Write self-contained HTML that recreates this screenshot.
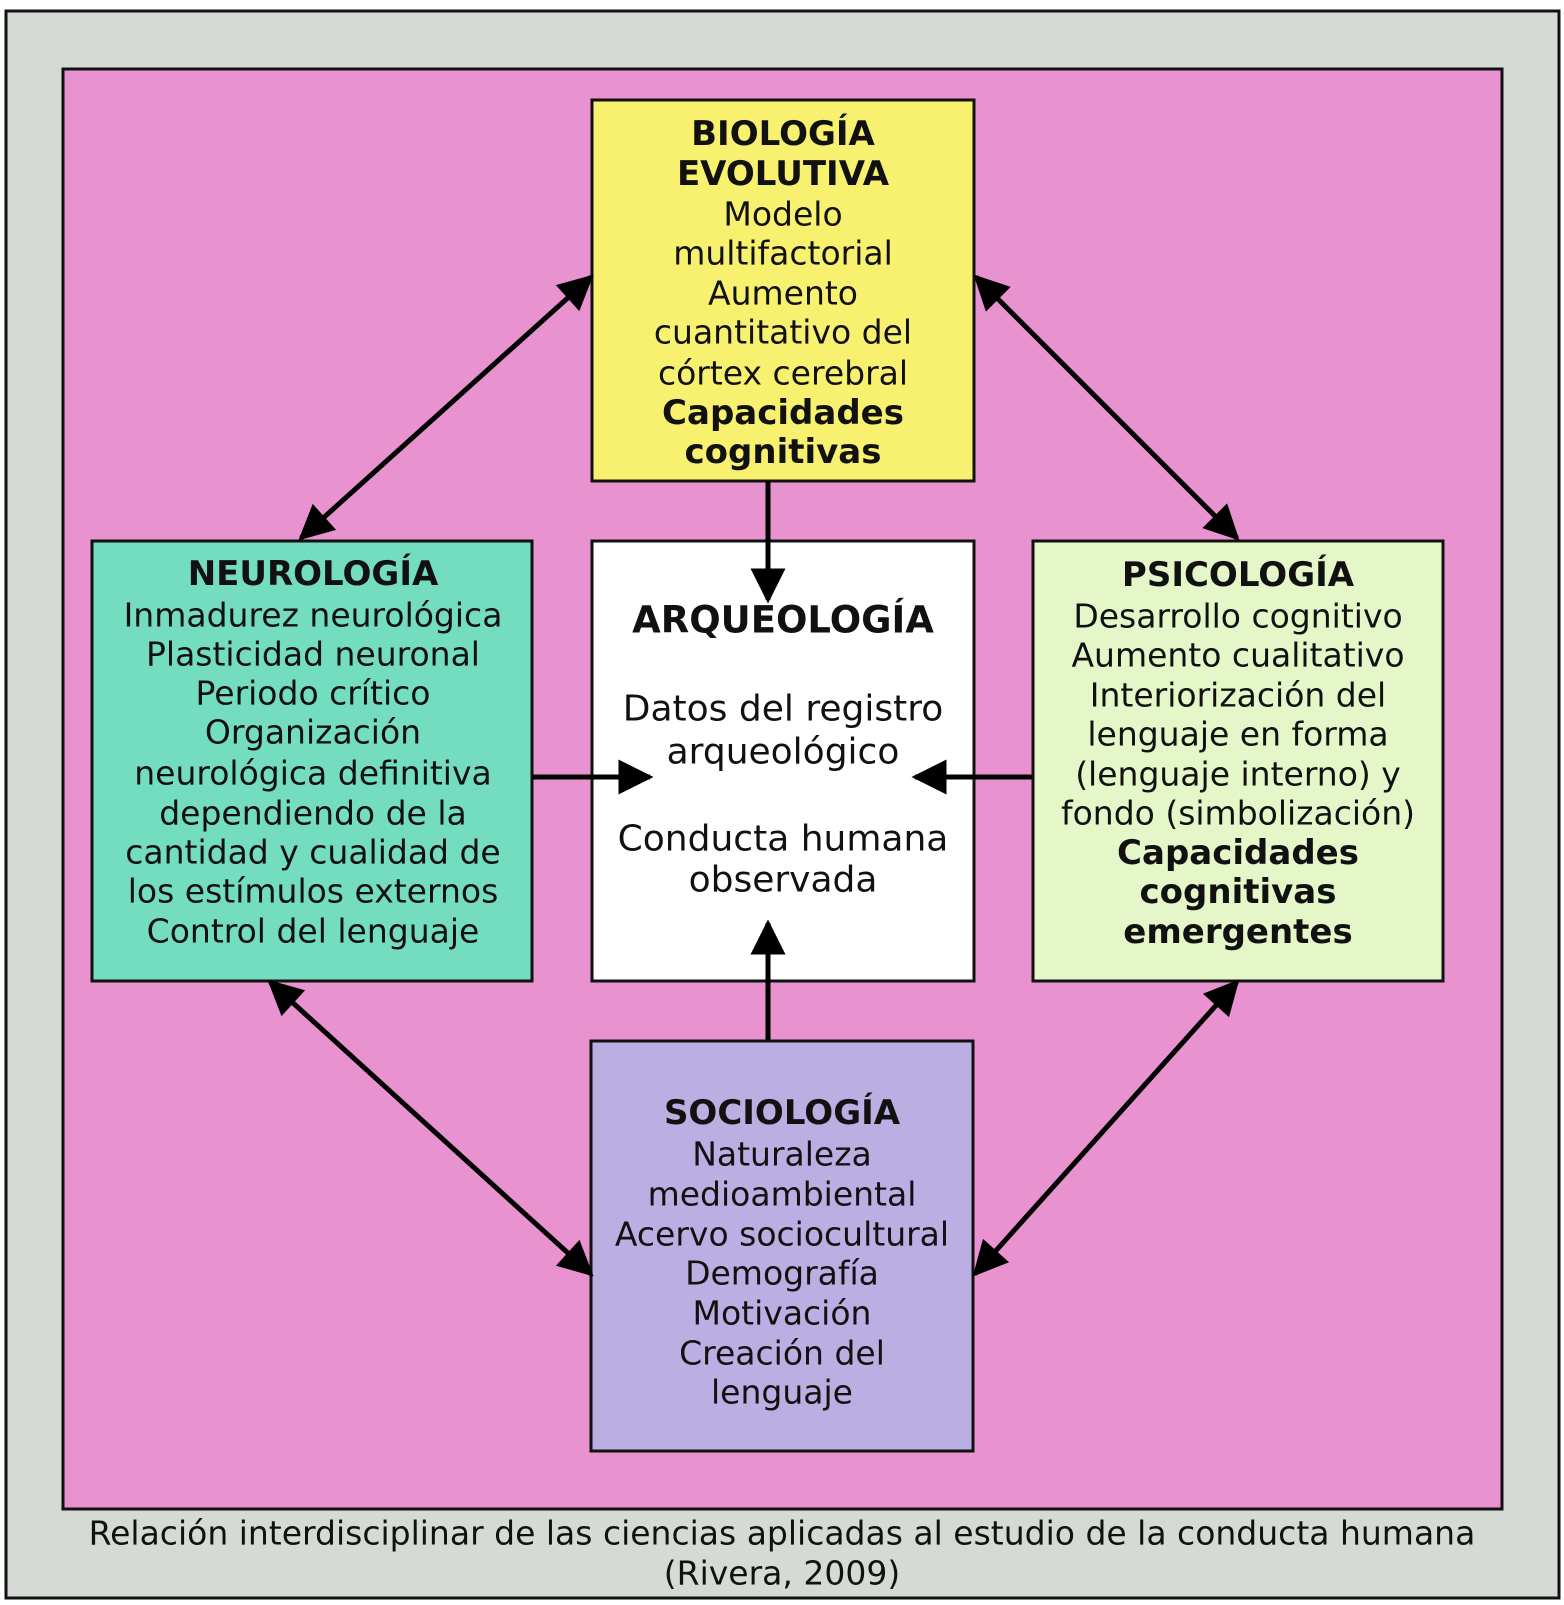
<!DOCTYPE html>
<html><head><meta charset="utf-8"><style>
html,body{margin:0;padding:0;background:#fff;}
svg text{font-family:"DejaVu Sans","Liberation Sans",sans-serif;fill:#111;}
</style></head><body>
<svg width="1564" height="1600" viewBox="0 0 1564 1600" xmlns="http://www.w3.org/2000/svg">
<defs>
<marker id="ah" viewBox="0 0 10 10" refX="9" refY="5" markerWidth="7.5" markerHeight="7" markerUnits="strokeWidth" orient="auto-start-reverse">
<path d="M0,0 L10,5 L0,10 z" fill="#000"/>
</marker>
</defs>
<rect x="0" y="0" width="1564" height="1600" fill="#fff"/>
<rect x="6" y="11" width="1553" height="1587" fill="#d6dad5" stroke="#111" stroke-width="3"/>
<rect x="63" y="69" width="1439" height="1440" fill="#e892cf" stroke="#111" stroke-width="3"/>

<rect x="592" y="100" width="382" height="381" fill="#f8f170" stroke="#111" stroke-width="3"/>
<rect x="92" y="541" width="440" height="440" fill="#74dcbf" stroke="#111" stroke-width="3"/>
<rect x="592" y="541" width="382" height="440" fill="#ffffff" stroke="#111" stroke-width="3"/>
<rect x="1033" y="541" width="410" height="440" fill="#e5f6c9" stroke="#111" stroke-width="3"/>
<rect x="591" y="1041" width="382" height="410" fill="#bbaee2" stroke="#111" stroke-width="3"/>

<g stroke="#000" stroke-width="5" fill="none">
<line x1="301" y1="538" x2="591" y2="277" marker-start="url(#ah)" marker-end="url(#ah)"/>
<line x1="976" y1="277" x2="1237" y2="538" marker-start="url(#ah)" marker-end="url(#ah)"/>
<line x1="270" y1="982" x2="591" y2="1274" marker-start="url(#ah)" marker-end="url(#ah)"/>
<line x1="1237" y1="982" x2="975" y2="1274" marker-start="url(#ah)" marker-end="url(#ah)"/>
<line x1="768" y1="481" x2="768" y2="600" marker-end="url(#ah)"/>
<line x1="768" y1="1040" x2="768" y2="923" marker-end="url(#ah)"/>
<line x1="532" y1="777" x2="650" y2="777" marker-end="url(#ah)"/>
<line x1="1032" y1="777" x2="915" y2="777" marker-end="url(#ah)"/>
</g>

<g text-anchor="middle" font-size="33" dominant-baseline="central">
<text x="783" y="134" font-weight="bold" font-size="34">BIOLOGÍA</text>
<text x="783" y="174" font-weight="bold" font-size="34">EVOLUTIVA</text>
<text x="783" y="214">Modelo</text>
<text x="783" y="253">multifactorial</text>
<text x="783" y="293">Aumento</text>
<text x="783" y="332">cuantitativo del</text>
<text x="783" y="373">córtex cerebral</text>
<text x="783" y="413" font-weight="bold" font-size="34">Capacidades</text>
<text x="783" y="452" font-weight="bold" font-size="34">cognitivas</text>

<text x="313" y="574" font-weight="bold" font-size="34">NEUROLOGÍA</text>
<text x="313" y="615">Inmadurez neurológica</text>
<text x="313" y="654">Plasticidad neuronal</text>
<text x="313" y="693">Periodo crítico</text>
<text x="313" y="732">Organización</text>
<text x="313" y="773">neurológica definitiva</text>
<text x="313" y="813">dependiendo de la</text>
<text x="313" y="852">cantidad y cualidad de</text>
<text x="313" y="891">los estímulos externos</text>
<text x="313" y="931">Control del lenguaje</text>

<text x="1238" y="575" font-weight="bold" font-size="34">PSICOLOGÍA</text>
<text x="1238" y="616">Desarrollo cognitivo</text>
<text x="1238" y="655">Aumento cualitativo</text>
<text x="1238" y="695">Interiorización del</text>
<text x="1238" y="734">lenguaje en forma</text>
<text x="1238" y="774">(lenguaje interno) y</text>
<text x="1238" y="813">fondo (simbolización)</text>
<text x="1238" y="853" font-weight="bold" font-size="34">Capacidades</text>
<text x="1238" y="892" font-weight="bold" font-size="34">cognitivas</text>
<text x="1238" y="932" font-weight="bold" font-size="34">emergentes</text>

<text x="782" y="1113" font-weight="bold" font-size="34">SOCIOLOGÍA</text>
<text x="782" y="1154">Naturaleza</text>
<text x="782" y="1194">medioambiental</text>
<text x="782" y="1234">Acervo sociocultural</text>
<text x="782" y="1273">Demografía</text>
<text x="782" y="1313">Motivación</text>
<text x="782" y="1353">Creación del</text>
<text x="782" y="1392">lenguaje</text>

<text x="783" y="620" font-weight="bold" font-size="37">ARQUEOLOGÍA</text>
<text x="783" y="709" font-size="36">Datos del registro</text>
<text x="783" y="752" font-size="36">arqueológico</text>
<text x="783" y="839" font-size="36">Conducta humana</text>
<text x="783" y="880" font-size="36">observada</text>

<text x="782" y="1533" font-size="33">Relación interdisciplinar de las ciencias aplicadas al estudio de la conducta humana</text>
<text x="782" y="1573" font-size="33">(Rivera, 2009)</text>
</g>
</svg>
</body></html>
